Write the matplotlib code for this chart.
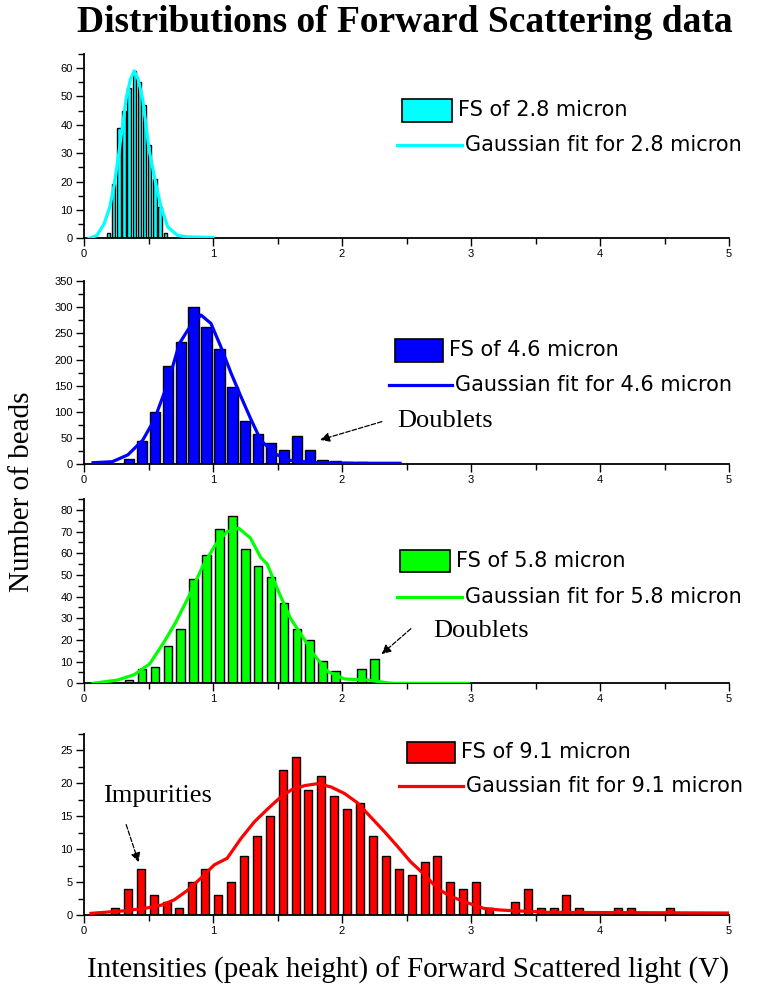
import matplotlib
matplotlib.use("Agg")
from matplotlib import pyplot as plt
from matplotlib.patches import Rectangle
from matplotlib.lines import Line2D
from matplotlib.ticker import MultipleLocator

W, H = 757, 989

# --- data ---
# 2.8 micron beads
x28 = [0.19, 0.23, 0.27, 0.31, 0.35, 0.39, 0.43, 0.47, 0.51, 0.55, 0.59, 0.63]
n28 = [2, 19, 39, 45, 53, 59, 55, 47, 33, 21, 11, 2]
fit28_x = [0.04, 0.10, 0.155, 0.20, 0.235, 0.27, 0.30, 0.326, 0.36, 0.39, 0.42,
           0.455, 0.48, 0.505, 0.558, 0.597, 0.649, 0.726, 0.80, 1.0]
fit28_y = [0, 1, 5, 11, 19, 30, 40, 49, 56, 59, 56, 49, 40, 31, 19, 11, 4, 1, 0.5, 0.3]

# 4.6 micron beads
x46 = [0.35, 0.45, 0.55, 0.65, 0.75, 0.85, 0.95, 1.05, 1.15, 1.25, 1.35, 1.45,
       1.55, 1.65, 1.75, 1.85, 1.95, 2.05, 2.15]
n46 = [10, 45, 99, 187, 233, 301, 263, 220, 148, 83, 57, 40, 27, 54, 27, 9, 6, 4, 4]
fit46_x = [0.07, 0.22, 0.34, 0.455, 0.545, 0.65, 0.74, 0.83, 0.907, 0.984, 1.06,
           1.14, 1.217, 1.29, 1.37, 1.475, 1.58, 1.79, 2.1, 2.45]
fit46_y = [3, 5, 18, 46, 85, 155, 231, 266, 285, 269, 225, 174, 129, 88, 46, 21,
           8, 3, 2, 2]

# 5.8 micron beads
x58 = [0.35, 0.45, 0.55, 0.65, 0.75, 0.85, 0.95, 1.05, 1.15, 1.25, 1.35, 1.45,
       1.55, 1.65, 1.75, 1.85, 1.95, 2.05, 2.15, 2.25]
n58 = [1.5, 6.6, 7.4, 17, 25, 48, 59, 71, 77, 62, 54, 49, 37, 25, 20, 10.5, 5.7,
       0, 6.6, 11]
fit58_x = [0.07, 0.26, 0.39, 0.51, 0.62, 0.71, 0.82, 0.92, 1.02, 1.11, 1.20, 1.29,
           1.37, 1.42, 1.51, 1.60, 1.70, 1.785, 1.89, 2.02, 2.2, 2.38, 2.98]
fit58_y = [0, 1.5, 4, 9, 19, 28, 41, 54, 64, 70, 71.5, 67, 58, 55, 42, 30, 21, 13,
           5.4, 2, 1.5, 0, 0]

# 9.1 micron beads
x91 = [0.24, 0.34, 0.44, 0.54, 0.64, 0.74, 0.84, 0.94, 1.04, 1.14, 1.24, 1.34,
       1.44, 1.54, 1.64, 1.74, 1.84, 1.94, 2.04, 2.14, 2.24, 2.34, 2.44, 2.54,
       2.64, 2.74, 2.84, 2.94, 3.04, 3.14, 3.24, 3.34, 3.44, 3.54, 3.64, 3.74,
       3.84, 3.94, 4.04, 4.14, 4.24, 4.34, 4.44, 4.54]
n91 = [1, 4, 7, 3, 2, 1, 5, 7, 3, 5, 9, 12, 15, 22, 24, 19, 21, 18, 16, 17, 12, 9,
       7, 6, 8, 9, 5, 4, 5, 1, 0, 2, 4, 1, 1, 3, 1, 0, 0, 1, 1, 0, 0, 1]
fit91_x = [0.054, 0.29, 0.47, 0.60, 0.70, 0.80, 0.907, 1.01, 1.11, 1.217, 1.32,
           1.42, 1.52, 1.61, 1.71, 1.81, 1.915, 2.02, 2.12, 2.22, 2.33, 2.43,
           2.53, 2.64, 2.74, 2.845, 2.95, 3.1, 3.23, 3.6, 4.99]
fit91_y = [0.25, 0.6, 1, 1.5, 2.3, 3.7, 5.6, 7.6, 8.6, 11.6, 14.1, 16.0, 17.8,
           19.0, 19.6, 19.9, 19.4, 18.4, 17, 14.9, 12.6, 10.4, 8.1, 6.1, 4, 2.8,
           2, 1, 0.75, 0.4, 0.3]

panels = [
    dict(x=x28, n=n28, fx=fit28_x, fy=fit28_y, color="#00FFFF", width=0.026,
         ylim=65, major=10, minor=5, label="2.8", top=53.8, bottom=238.3),
    dict(x=x46, n=n46, fx=fit46_x, fy=fit46_y, color="#0000FF", width=0.08,
         ylim=350, major=50, minor=25, label="4.6", top=281, bottom=464.3),
    dict(x=x58, n=n58, fx=fit58_x, fy=fit58_y, color="#00FF00", width=0.066,
         ylim=85, major=10, minor=5, label="5.8", top=499, bottom=683.3),
    dict(x=x91, n=n91, fx=fit91_x, fy=fit91_y, color="#FF0000", width=0.062,
         ylim=27.5, major=5, minor=2.5, label="9.1", top=733.5, bottom=915),
]

# legend positions in pixels: patch box (x0, y0, x1, y1), line (x0, x1, y)
legend_px = [
    ((402, 99, 452, 122), (397, 462, 145)),
    ((395, 339, 443, 362), (389, 452, 385)),
    ((400, 550, 450, 572), (397, 462, 597)),
    ((407, 742, 455, 763), (399, 463, 786)),
]


def fx(px):
    return px / W


def fy(py):
    return 1 - py / H


fig = plt.figure(figsize=(W / 100, H / 100), dpi=100)
ax_left, ax_right = 84, 729

axes = []
for p in panels:
    ax = fig.add_axes([fx(ax_left), fy(p["bottom"]), (ax_right - ax_left) / W,
                       (p["bottom"] - p["top"]) / H])
    ax.bar(p["x"], p["n"], width=p["width"], color=p["color"], edgecolor="black",
           linewidth=1.0, zorder=2)
    ax.plot(p["fx"], p["fy"], color=p["color"], lw=2.3, zorder=3)
    ax.set_xlim(0, 5)
    ax.set_ylim(0, p["ylim"])
    ax.spines["top"].set_visible(False)
    ax.spines["right"].set_visible(False)
    ax.spines["left"].set_linewidth(1.3)
    ax.spines["bottom"].set_linewidth(1.3)
    ax.xaxis.set_major_locator(MultipleLocator(1))
    ax.xaxis.set_minor_locator(MultipleLocator(0.5))
    ax.yaxis.set_major_locator(MultipleLocator(p["major"]))
    ax.yaxis.set_minor_locator(MultipleLocator(p["minor"]))
    ax.tick_params(axis="both", which="major", direction="out", length=6,
                   width=1, labelsize=8, pad=2)
    ax.tick_params(axis="both", which="minor", direction="out", length=4, width=1)
    for t in ax.get_xticklabels() + ax.get_yticklabels():
        t.set_family("Liberation Sans")
    ax.set_xticks([0, 1, 2, 3, 4, 5])
    ax.set_xticklabels(["0", "1", "2", "3", "4", "5"])
    axes.append(ax)

    (bx0, by0, bx1, by1), (lx0, lx1, ly) = legend_px[len(axes) - 1]
    fig.add_artist(Rectangle((fx(bx0), fy(by1)), (bx1 - bx0) / W, (by1 - by0) / H,
                             transform=fig.transFigure, facecolor=p["color"],
                             edgecolor="black", linewidth=1.2))
    fig.add_artist(Line2D([fx(lx0), fx(lx1)], [fy(ly), fy(ly)],
                          transform=fig.transFigure, color=p["color"], lw=2.3))
    fig.text(fx(bx1 + 6), fy((by0 + by1) / 2), "FS of %s micron" % p["label"],
             fontsize=15, va="center", ha="left", family="DejaVu Sans")
    fig.text(fx(lx1 + 3), fy(ly), "Gaussian fit for %s micron" % p["label"],
             fontsize=15, va="center", ha="left", family="DejaVu Sans")

# annotations
arrow = dict(arrowstyle="-|>", linestyle="--", color="black", lw=0.9,
             mutation_scale=14)
axes[1].annotate("", xy=(1.81, 45), xytext=(2.33, 83), arrowprops=arrow)
axes[1].text(2.43, 83, "Doublets", fontsize=19, family="Liberation Serif",
             va="center", ha="left")
axes[2].annotate("", xy=(2.29, 12.6), xytext=(2.55, 26), arrowprops=arrow)
axes[2].text(2.71, 24, "Doublets", fontsize=19, family="Liberation Serif",
             va="center", ha="left")
axes[3].annotate("", xy=(0.43, 7.6), xytext=(0.32, 14.1), arrowprops=arrow)
axes[3].text(0.15, 18, "Impurities", fontsize=19, family="Liberation Serif",
             va="center", ha="left")

fig.text(fx(405), fy(23), "Distributions of Forward Scattering data",
         fontsize=27, fontweight="bold", family="Liberation Serif",
         ha="center", va="center")
fig.text(fx(22), fy(492), "Number of beads", fontsize=21, family="Liberation Serif",
         rotation=90, ha="center", va="center")
fig.text(fx(408), fy(970), "Intensities (peak height) of Forward Scattered light (V)",
         fontsize=21, family="Liberation Serif", ha="center", va="center")

fig.savefig("out.png", dpi=100)
